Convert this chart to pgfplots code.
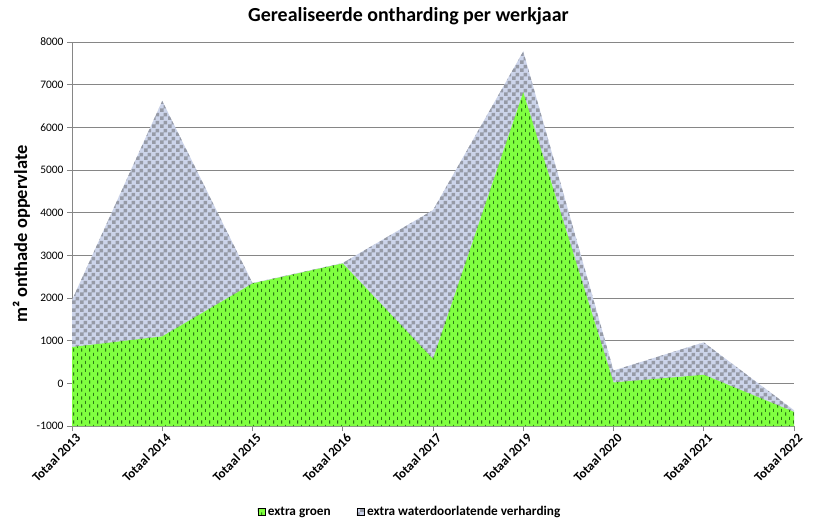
\documentclass[border=0pt]{standalone}
\usepackage{pgfplots}
\pgfplotsset{compat=1.18}
\usepackage{fontspec}
\setmainfont{Carlito}
\usetikzlibrary{patterns}
\definecolor{grn}{RGB}{128,255,64}
\definecolor{gryl}{RGB}{204,212,234}
\definecolor{gryd}{RGB}{150,154,166}
\definecolor{gridc}{RGB}{134,134,134}
\pgfdeclarepatternformonly{vdash}{\pgfpointorigin}{\pgfqpoint{8bp}{8bp}}{\pgfqpoint{8bp}{8bp}}{%
  \pgfsetlinewidth{0.75bp}%
  \pgfpathmoveto{\pgfqpoint{2bp}{0.5bp}}\pgfpathlineto{\pgfqpoint{2bp}{4bp}}%
  \pgfpathmoveto{\pgfqpoint{6bp}{4.5bp}}\pgfpathlineto{\pgfqpoint{6bp}{8bp}}%
  \pgfusepath{stroke}}
\pgfdeclarepatternformonly{checker}{\pgfpointorigin}{\pgfqpoint{8bp}{8bp}}{\pgfqpoint{8bp}{8bp}}{%
  \pgfpathrectangle{\pgfpointorigin}{\pgfqpoint{4bp}{4bp}}%
  \pgfpathrectangle{\pgfqpoint{4bp}{4bp}}{\pgfqpoint{4bp}{4bp}}%
  \pgfusepath{fill}}
\begin{document}
\begin{tikzpicture}
\begin{axis}[
  width=722bp, height=384bp, scale only axis,
  xmin=0, xmax=8, ymin=-1000, ymax=8000,
  ytick={-1000,0,1000,2000,3000,4000,5000,6000,7000,8000},
  xtick={0,1,2,3,4,5,6,7,8},
  xticklabels={Totaal 2013,Totaal 2014,Totaal 2015,Totaal 2016,Totaal 2017,Totaal 2019,Totaal 2020,Totaal 2021,Totaal 2022},
  x tick label style={rotate=45, anchor=north east, font=\bfseries\fontsize{13}{15}\selectfont, inner sep=1bp, xshift=2bp, yshift=-2bp},
  y tick label style={font=\fontsize{11.5}{13}\selectfont},
  /pgf/number format/assume math mode=true,
  /pgf/number format/1000 sep={},
  scaled y ticks=false,
  axis lines*=left,
  axis line style={gridc, line width=0.8bp},
  tick style={gridc, line width=0.8bp},
  tick align=outside,
  major tick length=5bp,
  ymajorgrids, grid style={gridc, line width=0.8bp},
  title={Gerealiseerde ontharding per werkjaar},
  title style={font=\bfseries\fontsize{20}{24}\selectfont, at={(axis description cs:0.466,1.038)}, anchor=base, inner sep=0pt},
  ylabel={m² onthade oppervlate},
  ylabel style={font=\bfseries\fontsize{18.5}{22}\selectfont, at={(axis description cs:-0.062,0.5)}, anchor=base, inner sep=0pt},
  legend style={draw=none, at={(axis description cs:0.468,-0.224)}, anchor=center, font=\bfseries\fontsize{13.3}{15}\selectfont, legend columns=2, /tikz/every even column/.append style={column sep=24bp}, /tikz/every odd column/.append style={column sep=1bp}, legend cell align=left},
  legend image code/.code={\fill[#1] (0bp,-3.5bp) rectangle (7bp,3.5bp);},
]
\addlegendimage{fill=grn, postaction={pattern=vdash, pattern color=black!70!green}}
\addlegendentry{extra groen}
\addlegendimage{fill=gryl, postaction={pattern=checker, pattern color=gryd}}
\addlegendentry{extra waterdoorlatende verharding}
% gray (top of stack)
\addplot[draw=none, fill=gryl, forget plot] coordinates {
 (0,-1000) (0,1950) (1,6620) (2,2350) (3,2820) (4,4060) (5,7780) (6,300) (7,960) (8,-630) (8,-1000)} -- cycle;
\addplot[draw=none, pattern=checker, pattern color=gryd, forget plot] coordinates {
 (0,-1000) (0,1950) (1,6620) (2,2350) (3,2820) (4,4060) (5,7780) (6,300) (7,960) (8,-630) (8,-1000)} -- cycle;
% green
\addplot[draw=none, fill=grn, forget plot] coordinates {
 (0,-1000) (0,850) (1,1100) (2,2340) (3,2810) (4,570) (5,6820) (6,20) (7,200) (8,-670) (8,-1000)} -- cycle;
\addplot[draw=none, pattern=vdash, pattern color=black!80!green, forget plot] coordinates {
 (0,-1000) (0,850) (1,1100) (2,2340) (3,2810) (4,570) (5,6820) (6,20) (7,200) (8,-670) (8,-1000)} -- cycle;
\end{axis}
\pgfresetboundingbox
\useasboundingbox (-72bp,-102bp) rectangle (744bp,426bp);
\end{tikzpicture}
\end{document}
